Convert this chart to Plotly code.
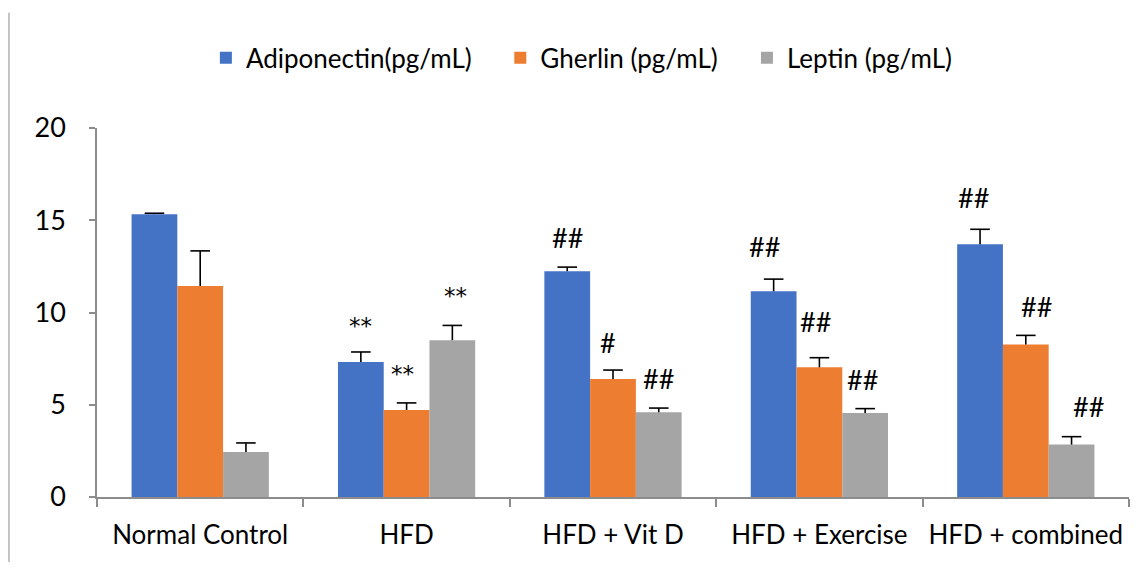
import plotly.graph_objects as go

categories = ["Normal Control", "HFD", "HFD + Vit D", "HFD + Exercise", "HFD + combined"]
series_names = ["Adiponectin(pg/mL)", "Gherlin (pg/mL)", "Leptin (pg/mL)"]
adiponectin = [15.33, 7.32, 12.24, 11.15, 13.70]
adiponectin_err = [0.05, 0.54, 0.22, 0.66, 0.81]
gherlin = [11.44, 4.72, 6.39, 7.03, 8.27]
gherlin_err = [1.90, 0.38, 0.49, 0.52, 0.49]
leptin = [2.44, 8.50, 4.59, 4.55, 2.84]
leptin_err = [0.49, 0.80, 0.23, 0.24, 0.43]

# significance marks: (category, series index, label, y position of label)
marks = [
    ("HFD", 0, "**", 9.5), ("HFD", 1, "**", 6.9), ("HFD", 2, "**", 11.1),
    ("HFD + Vit D", 0, "##", 14.05), ("HFD + Vit D", 1, "#", 8.35), ("HFD + Vit D", 2, "##", 6.45),
    ("HFD + Exercise", 0, "##", 13.6), ("HFD + Exercise", 1, "##", 9.5), ("HFD + Exercise", 2, "##", 6.35),
    ("HFD + combined", 0, "##", 16.25), ("HFD + combined", 1, "##", 10.3), ("HFD + combined", 2, "##", 4.9),
]
mark_xshift = {("HFD", 1): -4, ("HFD + Vit D", 1): -5, ("HFD + Exercise", 0): -9,
               ("HFD + Exercise", 1): -4, ("HFD + combined", 0): -7,
               ("HFD + combined", 1): 11, ("HFD + combined", 2): 17, ("HFD", 2): 3,
               ("HFD + Exercise", 2): -3}

colors = ["#4472C4", "#ED7D31", "#A5A5A5"]
values = [adiponectin, gherlin, leptin]
errors = [adiponectin_err, gherlin_err, leptin_err]
legend_ids = ["legend", "legend2", "legend3"]
legend_x = [0.1055, 0.3908, 0.6298]

FONT = "Lato, Calibri, sans-serif"
GROUP = 0.665
W = GROUP / len(series_names)
idx = list(range(len(categories)))

fig = go.Figure()
for si, (name, vals, errs, col) in enumerate(zip(series_names, values, errors, colors)):
    off = (si - 1) * W
    xs = [i + off for i in idx]
    fig.add_trace(go.Bar(
        x=xs, y=vals, name=name, width=W, legend=legend_ids[si],
        marker=dict(color=col, line=dict(width=0)),
    ))
    # error bar: upward stem + cap only
    fig.add_trace(go.Scatter(
        x=xs, y=[v + e for v, e in zip(vals, errs)], mode="markers",
        showlegend=False, hoverinfo="skip",
        marker=dict(symbol="line-ew", size=14, color="black",
                    line=dict(color="black", width=1.6)),
        error_y=dict(type="data", symmetric=False, array=[0] * len(errs),
                     arrayminus=errs, color="black", thickness=1.6, width=0),
    ))

for cat, si, label, ypos in marks:
    xpos = categories.index(cat) + (si - 1) * W
    star = "*" in label
    fig.add_annotation(x=xpos, y=ypos, text=label, showarrow=False,
                       xshift=mark_xshift.get((cat, si), 0), yanchor="middle",
                       yshift=-4 if star else 0,
                       font=dict(family="DejaVu Sans" if star else FONT,
                                 size=23 if star else 27, color="black"))

fig.add_shape(type="line", xref="paper", yref="paper",
              x0=-0.0853, x1=-0.0853, y0=-0.2, y1=1.312,
              line=dict(color="#A6A6A6", width=1.3))

legend_common = dict(orientation="h", xanchor="left", y=1.19, yanchor="middle",
                     font=dict(family=FONT, size=26, color="black"),
                     itemwidth=30, bgcolor="rgba(0,0,0,0)")
layout_legends = {lid: dict(legend_common, x=lx) for lid, lx in zip(legend_ids, legend_x)}

fig.update_layout(
    width=1131, height=554,
    margin=dict(l=89, r=10, t=120, b=65),
    paper_bgcolor="white", plot_bgcolor="white",
    barmode="overlay",
    font=dict(family=FONT, size=26, color="black"),
    showlegend=True,
    **layout_legends,
    xaxis=dict(range=[-0.5, len(categories) - 0.5], tickvals=idx, ticktext=categories,
               showline=True, linecolor="#8C8C8C", linewidth=1.5,
               ticks="", tickfont=dict(family=FONT, size=26),
               ticklabelstandoff=14, showgrid=False, zeroline=False,
               minor=dict(tick0=-0.5, dtick=1, ticks="outside", ticklen=8,
                          tickcolor="#8C8C8C", tickwidth=1.5, showgrid=False)),
    yaxis=dict(range=[0, 20], tickvals=[0, 5, 10, 15, 20], showline=True,
               linecolor="#8C8C8C", linewidth=1.5, ticks="outside", ticklen=6,
               tickcolor="#8C8C8C", tickwidth=1.5, showgrid=False, zeroline=False,
               tickfont=dict(family=FONT, size=27), ticklabelstandoff=18),
)

fig.write_html("out.html")
